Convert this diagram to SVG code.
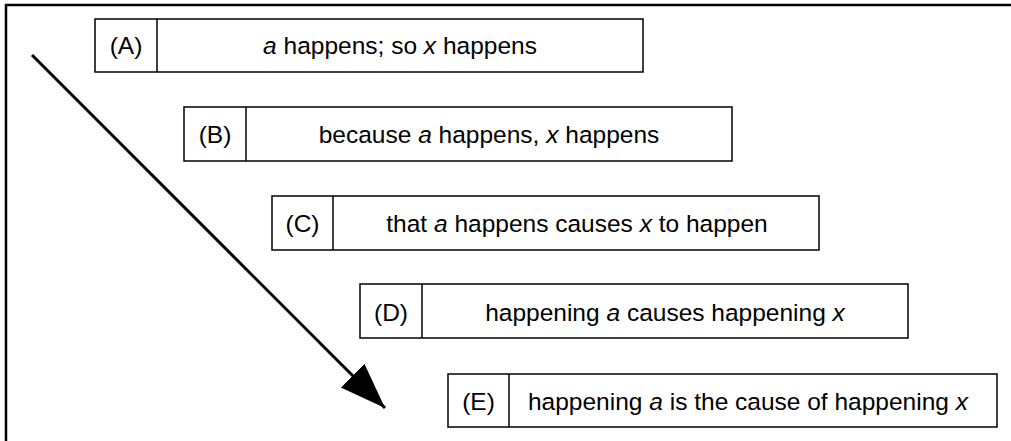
<svg xmlns="http://www.w3.org/2000/svg" width="1011" height="441" viewBox="0 0 1011 441">
<style>
.box{fill:#fff;stroke:#000;stroke-width:1.5}
.div{stroke:#000;stroke-width:1.5}
text{font-family:"Liberation Sans",Arial,sans-serif;font-size:24.5px;fill:#000;text-anchor:middle}
.frame{stroke:#000;stroke-width:2.5;fill:none}
</style>
<defs>
<marker id="ah" markerUnits="userSpaceOnUse" markerWidth="50" markerHeight="50" refX="44" refY="16" orient="auto" viewBox="0 0 48 32">
<path d="M0,0 L44,16 L0,32 Z" fill="#000"/>
</marker>
</defs>
<rect width="1011" height="441" fill="#fff"/>
<path class="frame" d="M6,441 L6,5 L1011,5"/>
<g id="nodeA">
<rect class="box" x="95" y="19" width="548" height="53"/>
<line class="div" x1="157" y1="19" x2="157" y2="72"/>
<text x="126" y="54">(A)</text>
<text x="400" y="54"><tspan font-style="italic">a</tspan> happens; so <tspan font-style="italic">x</tspan> happens</text>
</g>
<g id="nodeB">
<rect class="box" x="184" y="107" width="548" height="54"/>
<line class="div" x1="246" y1="107" x2="246" y2="161"/>
<text x="215" y="143">(B)</text>
<text x="489" y="143">because <tspan font-style="italic">a</tspan> happens, <tspan font-style="italic">x</tspan> happens</text>
</g>
<g id="nodeC">
<rect class="box" x="272" y="196" width="547" height="54"/>
<line class="div" x1="333" y1="196" x2="333" y2="250"/>
<text x="302.5" y="232">(C)</text>
<text x="577" y="232">that <tspan font-style="italic">a</tspan> happens causes <tspan font-style="italic">x</tspan> to happen</text>
</g>
<g id="nodeD">
<rect class="box" x="360" y="284" width="548" height="54"/>
<line class="div" x1="422" y1="284" x2="422" y2="338"/>
<text x="391" y="321">(D)</text>
<text x="665" y="321">happening <tspan font-style="italic">a</tspan> causes happening <tspan font-style="italic">x</tspan></text>
</g>
<g id="nodeE">
<rect class="box" x="448" y="374" width="549" height="53"/>
<line class="div" x1="509" y1="374" x2="509" y2="427"/>
<text x="478.5" y="410">(E)</text>
<text x="748" y="410">happening <tspan font-style="italic">a</tspan> is the cause of happening <tspan font-style="italic">x</tspan></text>
</g>
<g id="connectors">
<line x1="32" y1="55" x2="385" y2="408" stroke="#000" stroke-width="3" marker-end="url(#ah)"/>
</g>
</svg>
